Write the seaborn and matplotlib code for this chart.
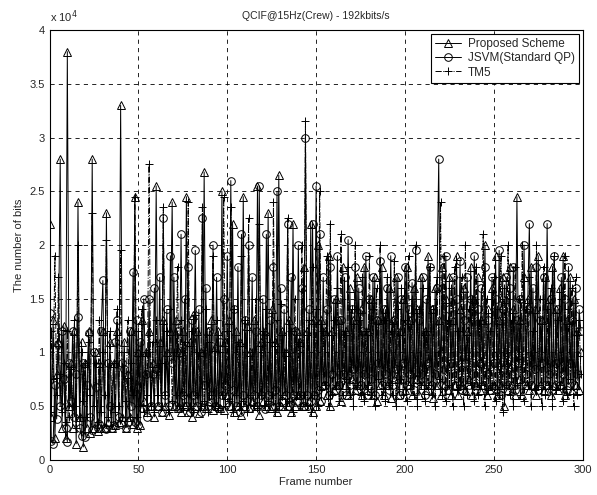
import numpy as np
import pandas as pd
import matplotlib
matplotlib.use("Agg")
import matplotlib.pyplot as plt
import seaborn as sns

# bits per frame, in thousands of bits
proposed = [
    22, 4, 13, 2, 8, 11, 28, 3, 12.5, 2,
    38, 5, 9, 3, 12, 1.5, 24, 4, 11, 1.2,
    9, 3, 12, 2.5, 28, 3, 10, 2.7, 9, 3,
    12, 3, 23, 3.5, 11, 3, 9, 3.2, 12, 3.5,
    33, 4, 11, 3, 8, 4, 12, 3.3, 24.5, 3,
    10, 3.2, 13, 5.5, 10, 4.5, 12, 5, 9, 4,
    25.5, 5, 11, 4.5, 13, 5, 10, 4.2, 12, 24,
    5, 13, 4.8, 10, 4.5, 12, 5, 24.5, 4.5, 11,
    4, 13.5, 5, 12, 4.4, 10, 5, 26.8, 4.8, 12,
    5.5, 13, 4.6, 10.5, 5, 12, 4.8, 25, 4.6, 11,
    6, 13, 5, 22, 4.5, 12, 5, 11, 4.2, 24.5,
    5, 12.5, 4.8, 10, 5.5, 13, 5, 25.5, 4.2, 11,
    5.5, 12, 5, 23, 4.8, 14, 5, 11, 4.5, 26.5,
    5, 12, 6, 10, 5, 13, 4.5, 22, 5, 12,
    6, 11, 5, 18, 5, 12, 5.5, 22, 4.5, 13,
    5, 20, 5.5, 13, 7, 12, 6, 19, 5, 12,
    6.5, 15, 7, 13, 5.5, 18, 7, 12, 6, 16,
    7.5, 13, 6.5, 17, 7, 14, 6, 18, 6.5, 12,
    7, 15, 6, 17, 5.5, 13, 7, 18, 6, 14,
    7, 16, 5.8, 13, 7.5, 17, 6, 12, 7, 15,
    6.5, 18, 7, 13, 6, 16, 7.5, 14, 6, 17,
    7, 12, 6.5, 19, 7, 14, 5.8, 16, 7, 13,
    6, 18, 7, 15, 6.5, 17, 6, 13, 7, 19,
    6, 14, 7, 16, 6.5, 12, 7.5, 18, 6, 15,
    7, 17, 6.5, 13, 7, 20, 6, 14, 6.5, 16,
    7, 19, 6, 13, 7, 17, 5, 15, 6.5, 18,
    7, 14, 6, 24.5, 7.5, 13, 6, 17, 7, 15,
    6.5, 18, 7, 14, 6, 19, 7, 13, 6.5, 17,
    7, 15, 6, 18, 7, 14, 6.5, 16, 7, 19,
    6, 13, 7, 17, 6.5, 15, 7, 12, 6.5, 10,
]

jsvm = [
    13.7, 1.8, 1.5, 7, 3.8, 10.8, 5, 12, 7.5, 3,
    1.7, 9, 5.5, 12, 4, 8, 13.3, 3, 2.2, 9,
    2.1, 7, 11.8, 4, 2.8, 10, 6.8, 3, 3.3, 12,
    16.7, 3, 2.9, 9, 5, 3, 3.2, 11, 13, 4,
    3.3, 9, 8.5, 3, 3.5, 12, 5, 17.5, 3.5, 13,
    3.2, 11, 4.8, 15, 8, 4, 15, 5, 8, 16,
    8.5, 5, 17, 4.5, 22.5, 6, 14, 5, 19, 9,
    17, 5, 12, 4.8, 21, 6, 15, 5, 18, 4.5,
    13, 6, 19.5, 5, 14, 4.5, 22.5, 7, 16, 5,
    12, 6, 20, 5, 17, 4.8, 11, 6, 15, 7,
    19, 5, 26, 6.5, 14, 5, 18, 4.5, 21, 6,
    13, 5.5, 20, 4.8, 17, 6, 12, 5, 25.5, 6,
    15, 4.7, 21, 6, 13, 5, 18, 6.5, 25, 5,
    16, 5.5, 14, 6, 22, 5, 17, 6, 12, 5.5,
    20, 6, 16, 5, 30, 6, 14, 5.5, 22, 6,
    25.5, 6.5, 21, 5.5, 17, 7, 14, 6, 18, 8,
    15, 6.5, 19, 7, 13, 8, 17, 6, 20.5, 7,
    14, 8.5, 18, 6.5, 16, 7, 12, 8, 19, 6,
    15, 7.5, 17, 6, 13, 9, 18.5, 7, 14, 8,
    16, 6.5, 19, 7, 13, 8.5, 17, 6, 15, 9,
    18, 7, 14, 8, 16.5, 6.5, 19.5, 7.5, 13, 8,
    17, 6, 15, 9, 18, 7, 14, 8, 16, 28,
    7, 16, 8.5, 19, 6.5, 14, 9, 17, 7, 15,
    8, 18.5, 6.5, 13, 9, 17, 7, 15, 8, 19,
    6.5, 14, 9, 16, 7, 18, 8, 13, 6.5, 17,
    9, 15, 7, 19.5, 6, 14, 8.5, 17, 7, 16,
    8, 18, 6.5, 13, 9, 15, 7, 20, 8, 14,
    22, 7, 16, 8.5, 18, 6.5, 13, 9, 17, 7,
    22, 8, 15, 6.5, 19, 9, 14, 7, 17, 8,
    15, 6.5, 18, 9, 13, 7, 16, 8, 14, 12,
]

tm5 = [
    4.5, 12, 7.5, 19, 6, 17, 8, 4.5, 9, 3.5,
    12, 4, 8.5, 5, 13, 3, 20, 4, 10, 5.5,
    9, 4, 11, 6, 23, 5, 9, 3.5, 13, 4.5,
    10, 6, 20.5, 4, 12, 5, 9, 4.5, 14, 5,
    19.5, 4, 10, 5.5, 13, 4, 9, 6, 24.5, 4,
    12, 5, 14, 4.5, 10, 6, 27.5, 5, 11, 4.5,
    13, 6, 9, 5, 23.5, 6, 12, 4.5, 14, 5.5,
    10, 6, 18, 5, 13, 4.8, 11, 6, 24, 5,
    12, 4.5, 13.5, 6, 10, 5, 23.5, 5.5, 14, 4.5,
    11, 6, 19, 5, 13, 4.8, 10, 6, 24.5, 5,
    12, 5.5, 23.5, 4.5, 14, 6, 11, 5, 19, 5.5,
    13, 4.5, 22.5, 6, 10, 5, 15, 4.8, 22, 6,
    12, 5, 14, 5.5, 11, 6, 24, 4.5, 13, 5,
    14.5, 6, 10, 5, 22.5, 5.5, 12, 4.5, 15, 6,
    11, 5, 20, 6, 31.5, 5, 13, 4.5, 18, 6,
    14, 5, 25, 6.5, 12, 7, 19, 5, 22, 6,
    13, 7, 16, 5.5, 21, 6, 12, 7.5, 18, 6,
    14, 5, 20, 7, 13, 6, 17, 5.5, 12, 7,
    19, 6, 14, 5, 16, 7.5, 20, 6, 13, 5.5,
    17, 7, 12, 6, 18.5, 5, 14, 7.5, 16, 6,
    13, 5.5, 19, 7, 15, 6, 20, 5, 14, 7,
    16, 5.5, 12, 7, 18, 6, 14, 5, 17, 7.5,
    24, 6, 19, 5.5, 13, 7, 16, 5, 18, 6.5,
    12, 7, 17, 5, 20, 6, 14, 7, 15, 5.5,
    18, 6, 13, 7, 21, 5, 15, 6.5, 12, 7,
    17, 5.5, 14, 6, 19, 4.5, 16, 7, 20, 6,
    13, 5, 18, 7, 15, 6, 20, 5.5, 14, 7,
    17, 5, 12, 6.5, 20, 7, 15, 5, 18, 6,
    14, 7, 16, 5, 19, 6.5, 13, 7, 15, 5.5,
    19, 6, 14, 7.5, 16, 5, 17, 6, 13, 8,
]

assert len(proposed) == 300 and len(jsvm) == 300 and len(tm5) == 300

series_names = ["Proposed Scheme", "JSVM(Standard QP)", "TM5"]
x_ticks = [0, 50, 100, 150, 200, 250, 300]
y_ticks = [0, 0.5, 1, 1.5, 2, 2.5, 3, 3.5, 4]

frames = np.arange(300)

sns.set_style("white")
plt.rcParams['font.family'] = ['Liberation Sans', 'DejaVu Sans']

fig = plt.figure(figsize=(5.97, 4.95), dpi=100)
ax = fig.add_axes([0.083, 0.071, 0.893, 0.868])

styles = [
    dict(marker='^', linestyle='-', lw=0.7),
    dict(marker='o', linestyle='-', lw=0.7),
    dict(marker='+', linestyle='-.', lw=0.7),
]
for name, vals, st in zip(series_names, [proposed, jsvm, tm5], styles):
    df = pd.DataFrame({"frame": frames, "bits": np.array(vals) / 10.0})
    sns.lineplot(data=df, x="frame", y="bits", ax=ax, estimator=None, sort=False,
                 color='black', linewidth=st['lw'], linestyle=st['linestyle'],
                 marker=st['marker'], markersize=5.5, markerfacecolor='none',
                 markeredgecolor='black', markeredgewidth=0.7, label=name)

ax.set_xlim(0, 300)
ax.set_ylim(0, 4)
ax.set_xticks(x_ticks)
ax.set_yticks(y_ticks)
ax.set_yticklabels(['%g' % v for v in y_ticks])
ax.tick_params(direction='in', length=3, labelsize=8, width=0.6)
ax.grid(True, color='black', linestyle=(0, (5, 5)), linewidth=0.6)
for sp in ax.spines.values():
    sp.set_color('black')
    sp.set_linewidth(0.8)

ax.set_xlabel("Frame number", fontsize=8, labelpad=2)
ax.set_ylabel("The number of bits", fontsize=8, labelpad=4)
ax.set_title("QCIF@15Hz(Crew) - 192kbits/s", fontsize=7.5, pad=8)
ax.text(0.0, 1.012, r"x 10$^4$", transform=ax.transAxes, fontsize=8,
        ha='left', va='bottom')

leg = ax.legend(loc='upper right', fontsize=8.5, frameon=True, fancybox=False,
                edgecolor='black', framealpha=1, borderpad=0.35, labelspacing=0.2,
                handlelength=2.2, handletextpad=0.6, borderaxespad=0.3)
leg.get_frame().set_linewidth(0.8)

fig.savefig("out.png", dpi=100)
